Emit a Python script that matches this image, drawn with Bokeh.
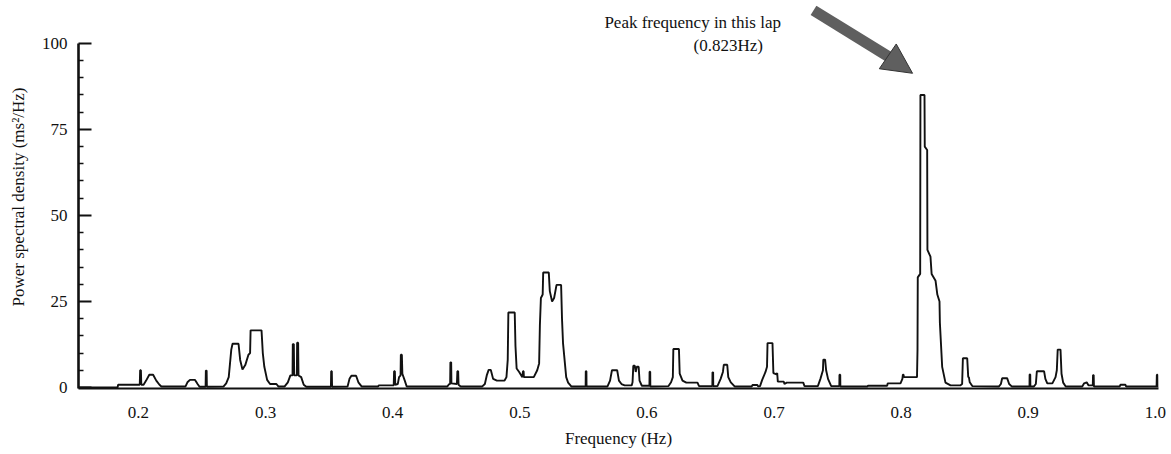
from bokeh.plotting import figure
from bokeh.models import Range1d, FixedTicker, Arrow, NormalHead, Label, ColumnDataSource
from bokeh.embed import file_html
from bokeh.resources import INLINE

# ---- data ----
freq = [0.153, 0.1835, 0.1840, 0.2005, 0.2010, 0.2013, 0.2019, 0.2022,
        0.2040, 0.2060, 0.2085, 0.2115, 0.2140, 0.2165, 0.2180,
        0.2370, 0.2385, 0.2405, 0.2445, 0.2465, 0.2480,
        0.2528, 0.2530, 0.2536, 0.2538,
        0.2670, 0.2690, 0.2710, 0.2730, 0.2740, 0.2787, 0.2800, 0.2818, 0.2840, 0.2865, 0.2878,
        0.2882, 0.2968, 0.2978, 0.2990, 0.3012, 0.3035, 0.3085, 0.3100,
        0.3150, 0.3175, 0.3195, 0.3212, 0.3214, 0.3222, 0.3225, 0.3246, 0.3248, 0.3256, 0.3259,
        0.3280, 0.3300, 0.3320,
        0.3514, 0.3516, 0.3521, 0.3523,
        0.3645, 0.3660, 0.3675, 0.3712, 0.3730, 0.3755,
        0.3885, 0.3890, 0.4008, 0.4011, 0.4017, 0.4020,
        0.4040, 0.4050, 0.4062, 0.4064, 0.4072, 0.4076, 0.4095, 0.4110,
        0.4430, 0.4445, 0.4452, 0.4454, 0.4460, 0.4462, 0.4505, 0.4509, 0.4515, 0.4518, 0.4535,
        0.4705, 0.4725, 0.4740, 0.4755, 0.4772, 0.4790, 0.4820, 0.4880, 0.4895,
        0.4905, 0.4910, 0.4960, 0.4966, 0.4975, 0.4995, 0.5020, 0.5025, 0.5030, 0.5032,
        0.5110, 0.5137, 0.5152, 0.5158, 0.5166, 0.5180, 0.5184, 0.5228, 0.5236, 0.5254, 0.5270,
        0.5289, 0.5325, 0.5332, 0.5340, 0.5365, 0.5380, 0.5405,
        0.5518, 0.5519, 0.5524, 0.5525,
        0.5690, 0.5710, 0.5725, 0.5766, 0.5780, 0.5800, 0.5825, 0.5880, 0.5887, 0.5893, 0.5905,
        0.5912, 0.5920, 0.5935, 0.5942, 0.5960,
        0.6020, 0.6021, 0.6026, 0.6027,
        0.6170, 0.6190, 0.6204, 0.6208, 0.6252, 0.6258, 0.6280, 0.6310, 0.6398, 0.6410,
        0.6515, 0.6516, 0.6521, 0.6522,
        0.6555, 0.6580, 0.6598, 0.6605, 0.6632, 0.6640, 0.6660, 0.6690,
        0.6825, 0.6830, 0.6870, 0.6875,
        0.6890, 0.6907, 0.6933, 0.6945, 0.6949, 0.6988, 0.6995, 0.7020, 0.7025, 0.7030, 0.7077,
        0.7082, 0.7100, 0.7230, 0.7240,
        0.7345, 0.7365, 0.7385, 0.7388, 0.7402, 0.7410, 0.7425, 0.7450,
        0.7514, 0.7515, 0.7521, 0.7522,
        0.7735, 0.7740, 0.7890, 0.7895, 0.7995, 0.8010, 0.8014, 0.8019, 0.8022, 0.8125,
        0.8129, 0.8131, 0.8150, 0.8152, 0.8184, 0.8186, 0.8205, 0.8207, 0.8231, 0.8240, 0.8271,
        0.8285, 0.8302, 0.8305, 0.8323, 0.8349, 0.8389, 0.8465,
        0.8480, 0.8486, 0.8520, 0.8528, 0.8533, 0.8540, 0.8560,
        0.8770, 0.8785, 0.8795, 0.8834, 0.8850, 0.8870,
        0.9010, 0.9011, 0.9016, 0.9017,
        0.9045, 0.9060, 0.9068, 0.9125, 0.9135, 0.9150, 0.9190, 0.9215, 0.9225, 0.9232, 0.9254,
        0.9262, 0.9275, 0.9295,
        0.9425, 0.9440, 0.9460, 0.9475, 0.9508, 0.9510, 0.9515, 0.9517,
        0.9720, 0.9725, 0.9765, 0.9770,
        1.0010, 1.0012, 1.0017, 1.0019]

psd = [0.0, 0.0, 0.8, 0.8, 0.8, 5.0, 5.0, 0.8,
       0.8, 2.0, 3.7, 3.7, 2.0, 0.8, 0.3,
       0.3, 1.5, 2.2, 2.2, 1.0, 0.2,
       0.2, 4.9, 4.9, 0.2,
       0.3, 1.2, 3.0, 11.0, 12.7, 12.7, 8.0, 5.2, 6.5, 9.5, 10.0,
       16.6, 16.6, 10.0, 6.0, 2.2, 1.0, 1.0, 0.3,
       0.3, 1.5, 3.5, 3.5, 12.6, 12.6, 3.5, 3.5, 13.0, 13.0, 3.5,
       3.0, 0.8, 0.2,
       0.2, 4.7, 4.7, 0.2,
       0.3, 2.5, 3.4, 3.4, 1.5, 0.3,
       0.3, 0.6, 0.6, 4.7, 4.7, 0.8,
       1.0, 3.0, 3.5, 9.5, 9.5, 4.0, 2.0, 0.3,
       0.3, 1.0, 1.0, 7.3, 7.3, 1.2, 1.0, 4.7, 4.7, 0.8, 0.3,
       0.3, 1.0, 3.5, 5.1, 5.1, 2.5, 2.0, 2.0, 3.0,
       8.0, 21.8, 21.8, 12.0, 5.5, 4.5, 3.0, 4.7, 4.7, 3.0,
       3.0, 5.0, 7.0, 18.0, 26.0, 27.0, 33.4, 33.4, 28.0, 25.0, 26.0,
       29.8, 29.8, 20.0, 12.9, 3.0, 1.4, 0.3,
       0.3, 4.7, 4.7, 0.3,
       0.3, 2.0, 5.0, 5.0, 2.0, 1.0, 0.6, 0.6, 1.5, 6.3, 6.3,
       4.5, 6.0, 6.0, 2.0, 0.5,
       0.5, 4.6, 4.6, 0.3,
       0.4, 1.5, 3.0, 11.2, 11.2, 4.0, 2.0, 1.4, 1.4, 0.4,
       0.4, 4.4, 4.4, 0.4,
       0.4, 2.5, 4.5, 6.6, 6.6, 3.0, 1.5, 0.3,
       0.3, 0.7, 0.7, 0.3,
       0.4, 2.2, 4.5, 6.0, 12.9, 12.9, 4.2, 3.8, 4.2, 1.7, 1.7,
       1.0, 1.4, 1.4, 0.4,
       0.4, 2.5, 5.0, 8.1, 8.1, 5.0, 2.5, 0.4,
       0.4, 3.7, 3.7, 0.3,
       0.3, 0.5, 0.5, 1.2, 1.2, 2.5, 3.7, 3.7, 3.0, 3.0,
       11.0, 32.0, 33.0, 85.0, 85.0, 70.0, 69.0, 40.0, 38.0, 33.0, 31.0,
       27.0, 25.0, 18.8, 6.0, 1.4, 0.6, 0.6,
       1.0, 8.5, 8.5, 3.0, 3.0, 1.5, 0.4,
       0.3, 1.0, 2.7, 2.7, 1.0, 0.3,
       0.3, 3.8, 3.8, 0.3,
       0.3, 1.0, 4.7, 4.7, 2.5, 1.2, 1.2, 3.0, 5.0, 11.0, 11.0,
       4.0, 1.4, 0.3,
       0.3, 1.2, 1.5, 0.6, 0.6, 3.6, 3.6, 0.3,
       0.3, 0.8, 0.8, 0.3,
       0.3, 3.7, 3.7, 0.0]

x_ticks = [0.2, 0.3, 0.4, 0.5, 0.6, 0.7, 0.8, 0.9, 1.0]
x_tick_labels = ["0.2", "0.3", "0.4", "0.5", "0.6", "0.7", "0.8", "0.9", "1.0"]
y_ticks = [0, 25, 50, 75, 100]
y_minor_ticks = [5, 10, 15, 20, 30, 35, 40, 45, 55, 60, 65, 70, 80, 85, 90, 95]

annot_line1 = "Peak frequency in this lap"
annot_line2 = "(0.823Hz)"

FONT = "Liberation Serif"

p = figure(width=1171, height=454, output_backend="svg", toolbar_location=None,
           x_range=Range1d(0.1528, 1.0025), y_range=Range1d(-0.3, 111.0),
           min_border_left=78, min_border_right=13, min_border_top=5, min_border_bottom=66)
p.outline_line_color = None
p.xgrid.visible = False
p.ygrid.visible = False
p.background_fill_color = "white"
p.border_fill_color = "white"

src = ColumnDataSource(dict(f=freq, v=psd))
p.line("f", "v", source=src, line_color="#111111", line_width=1.9)

xa = p.xaxis[0]
xa.ticker = FixedTicker(ticks=x_ticks)
xa.major_label_overrides = {t: l for t, l in zip(x_ticks, x_tick_labels)}
xa.major_tick_line_color = None
xa.minor_tick_line_color = None
xa.axis_line_width = 2.2
xa.axis_line_color = "#111111"
xa.major_label_text_font = FONT
xa.major_label_text_font_size = "17px"
xa.major_label_text_color = "#111111"
xa.major_label_standoff = 12
xa.axis_label = "Frequency (Hz)"
xa.axis_label_text_font = FONT
xa.axis_label_text_font_style = "normal"
xa.axis_label_text_font_size = "17px"
xa.axis_label_text_color = "#111111"
xa.axis_label_standoff = 8

ya = p.yaxis[0]
ya.bounds = (-0.3, 100)
ya.ticker = FixedTicker(ticks=y_ticks, minor_ticks=y_minor_ticks)
ya.major_tick_in = 13
ya.major_tick_out = 0
ya.minor_tick_in = 5
ya.minor_tick_out = 0
ya.major_tick_line_width = 2
ya.minor_tick_line_width = 1.5
ya.major_tick_line_color = "#111111"
ya.minor_tick_line_color = "#111111"
ya.axis_line_width = 2.6
ya.axis_line_color = "#111111"
ya.major_label_text_font = FONT
ya.major_label_text_font_size = "17px"
ya.major_label_text_color = "#111111"
ya.major_label_standoff = 11
ya.axis_label = "Power spectral density (ms\u00b2/Hz)"
ya.axis_label_text_font = FONT
ya.axis_label_text_font_style = "normal"
ya.axis_label_text_font_size = "17px"
ya.axis_label_text_color = "#111111"
ya.axis_label_standoff = 11

# annotation arrow (shaft + head)
p.add_layout(Arrow(end=None, x_start=0.7311, y_start=109.6, x_end=0.7925, y_end=95.6,
                   line_width=11, line_color="#5f5f5f"))
p.add_layout(Arrow(end=NormalHead(size=30, fill_color="#5f5f5f", line_color="#333333", line_width=1),
                   x_start=0.7880, y_start=96.6, x_end=0.8090, y_end=91.3,
                   line_width=0, line_alpha=0))

p.add_layout(Label(x=0.636, y=106.0, text=annot_line1, text_align="center", text_baseline="middle",
                   text_font=FONT, text_font_size="17px", text_color="#111111"))
p.add_layout(Label(x=0.664, y=99.4, text=annot_line2, text_align="center", text_baseline="middle",
                   text_font=FONT, text_font_size="17px", text_color="#111111"))

open("out.html", "w").write(file_html(p, INLINE))
